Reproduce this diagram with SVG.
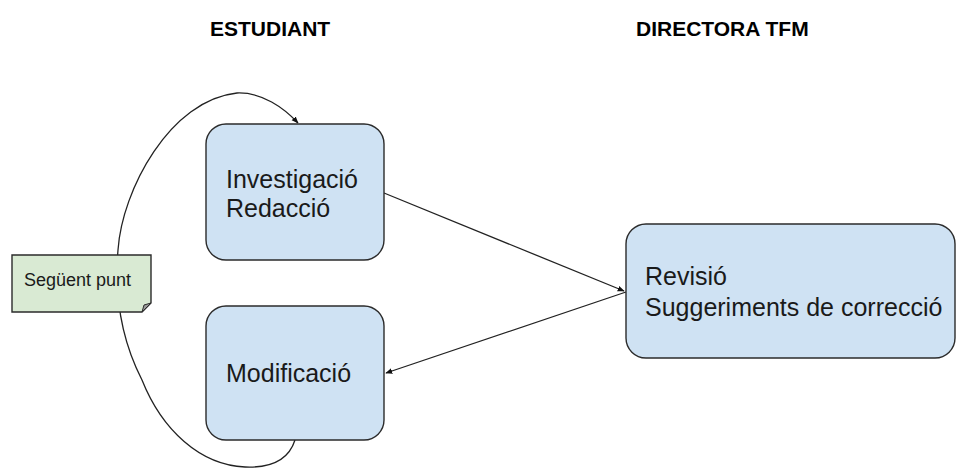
<svg xmlns="http://www.w3.org/2000/svg" width="956" height="468" viewBox="0 0 956 468">
  <style>
    .box { fill: #cfe2f3; stroke: #2b2b2b; stroke-width: 1.4; }
    .note { fill: #d9ead3; stroke: #2b2b2b; stroke-width: 1.4; }
    .lbl { font-family: "Liberation Sans", Arial, sans-serif; font-size: 25px; fill: #1a1a1a; }
    .hdr { font-family: "Liberation Sans", Arial, sans-serif; font-size: 21px; font-weight: bold; fill: #000; }
    .small { font-family: "Liberation Sans", Arial, sans-serif; font-size: 18px; fill: #1a1a1a; }
    .conn { fill: none; stroke: #222; stroke-width: 1.3; marker-end: url(#arrow); }
  </style>
  <defs>
    <marker id="arrow" viewBox="0 0 10 10" refX="9" refY="5" markerWidth="7" markerHeight="7" orient="auto" markerUnits="userSpaceOnUse">
      <path d="M0,1 L10,5 L0,9 Z" fill="#111"/>
    </marker>
  </defs>
  <rect width="956" height="468" fill="#ffffff"/>

  <g id="headers">
    <text class="hdr" x="210" y="36">ESTUDIANT</text>
    <text class="hdr" x="636" y="36">DIRECTORA TFM</text>
  </g>

  <g id="connectors">
    <path class="conn" d="M 384 193 L 624 291"/>
    <path class="conn" d="M 626 292 L 386 373"/>
    <path class="conn" d="M 295 440 C 288 462 268 468 245 467 C 200 465 162 430 142 380 C 124 345 114 300 118 250 C 122 190 170 100 237 93 C 262 92 284 108 298 123"/>
  </g>

  <g id="node-investigacio">
    <rect class="box" x="206" y="124" width="178" height="136" rx="20" ry="20"/>
    <text class="lbl" x="226" y="188">Investigació</text>
    <text class="lbl" x="226" y="217">Redacció</text>
  </g>

  <g id="node-modificacio">
    <rect class="box" x="206" y="306" width="178" height="134" rx="20" ry="20"/>
    <text class="lbl" x="226" y="382">Modificació</text>
  </g>

  <g id="node-revisio">
    <rect class="box" x="626" y="224" width="329" height="134" rx="20" ry="20"/>
    <text class="lbl" x="645" y="285">Revisió</text>
    <text class="lbl" x="645" y="316">Suggeriments de correcció</text>
  </g>

  <g id="node-seguent">
    <path class="note" d="M 12 255 L 151 255 L 151 303 L 142 312 L 12 312 Z"/>
    <path d="M 151 303 L 144 305 L 142 312 Z" fill="#9a9a9a" stroke="#2b2b2b" stroke-width="1"/>
    <text class="small" x="24" y="286">Següent punt</text>
  </g>
</svg>
